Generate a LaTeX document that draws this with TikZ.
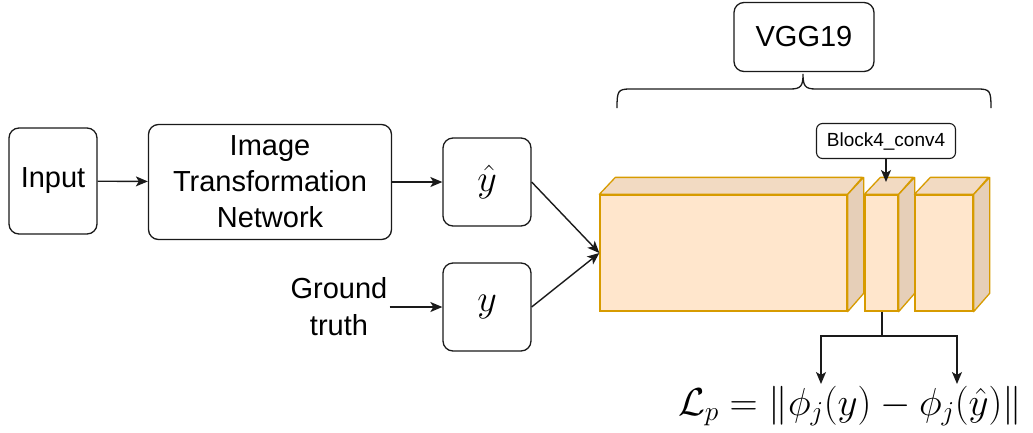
\documentclass[tikz,border=0pt]{standalone}
\usepackage{fix-cm}
\usepackage{fontspec}
\usepackage{amsmath,amssymb}
\setmainfont{Liberation Sans}
\usetikzlibrary{arrows.meta,positioning,calc}
\definecolor{ink}{HTML}{1A1A1A}
\definecolor{blockfront}{HTML}{FFE6CC}
\definecolor{blocktop}{HTML}{F2DAC2}
\definecolor{blockside}{HTML}{E6CFB8}
\definecolor{blockedge}{HTML}{D79B00}
\tikzset{
  roundbox/.style={draw=ink,fill=white,line width=1.3pt,rounded corners=10pt,
                   align=center,inner sep=2pt,font=\fontsize{29}{36}\selectfont},
  mathbox/.style={roundbox,minimum width=88pt,minimum height=88pt,
                  font=\fontsize{38}{40}\selectfont},
  tagbox/.style={draw=ink,fill=white,line width=1.1pt,rounded corners=6pt,
                 minimum width=139pt,minimum height=35pt,inner sep=1pt,
                 font=\fontsize{19}{22}\selectfont},
  front/.style={draw=blockedge,fill=blockfront,line width=1.3pt,inner sep=0pt},
  face/.style={draw=blockedge,line width=1.3pt,line join=round},
  flowarr/.style={-{Stealth[length=12pt,width=10pt,inset=3pt]},line width=1.4pt,color=ink},
  plainline/.style={line width=1.3pt,color=ink}
}
% one conv block drawn as a box with depth
\newcommand{\convblock}[3]{%
  \node[front,minimum width=#3pt-#2pt,minimum height=116pt] (#1) at ({(#2+#3)/2},253) {};
  \draw[face,fill=blocktop] (#1.north west) -- ++(16,-17) -- ++(#3-#2,0) -- (#1.north east) -- cycle;
  \draw[face,fill=blockside] (#1.north east) -- ++(16,-17) -- ++(0,116) -- (#1.south east) -- cycle;
}

\begin{document}
\begin{tikzpicture}[x=1pt,y=-1pt]
  \useasboundingbox (0,0) rectangle (1033,432);

  % generator side
  \node[roundbox,minimum width=88pt,minimum height=106pt] (input) at (53,181) {Input};
  \node[roundbox,minimum width=243pt,minimum height=115pt] (itn) at (270,182)
    {Image\\Transformation\\Network};
  \node[mathbox] (yhat) at (487,182) {$\hat{y}$};
  \node[mathbox] (ytrue) at (487,307) {$y$};
  \node[align=center,inner sep=2pt,font=\fontsize{29}{37}\selectfont] (gt) at (339,307)
    {Ground\\truth};

  \draw[flowarr] (input) -- (itn);
  \draw[flowarr] (itn) -- (yhat);
  \draw[flowarr] (gt) -- (ytrue);

  % loss network
  \convblock{blkA}{600}{847}
  \convblock{blkB}{865}{898}
  \convblock{blkC}{915}{973}

  \draw[flowarr] (yhat.east) -- (blkA.west);
  \draw[flowarr] (ytrue.east) -- (blkA.west);

  \node[roundbox,minimum width=140pt,minimum height=69pt] (vgg) at (804,37) {VGG19};
  \draw[plainline] (617,108) .. controls (617,91) and (618,89) .. (630,89) -- (790,89)
    .. controls (801,89) and (803,86) .. (803,74) .. controls (803,86) and (805,89) .. (816,89)
    -- (978,89) .. controls (990,89) and (991,91) .. (991,108);

  \node[tagbox] (tag) at (886,141) {Block4\_conv4};
  \coordinate (btop) at (886,182);
  \draw[flowarr] (tag.south) -- (btop);

  % perceptual loss
  \node[inner sep=0pt,font=\fontsize{39}{42}\selectfont] (loss) at (850,406)
    {$\mathcal{L}_p = \|\phi_j(y) - \phi_j(\hat{y})\|$};
  \coordinate (split) at (882,336);
  \coordinate (tipL) at (821,384);
  \coordinate (tipR) at (957,384);
  \draw[plainline] (blkB.south -| split) -- (split);
  \draw[flowarr] (split) -| (tipL);
  \draw[flowarr] (split) -| (tipR);
\end{tikzpicture}
\end{document}
